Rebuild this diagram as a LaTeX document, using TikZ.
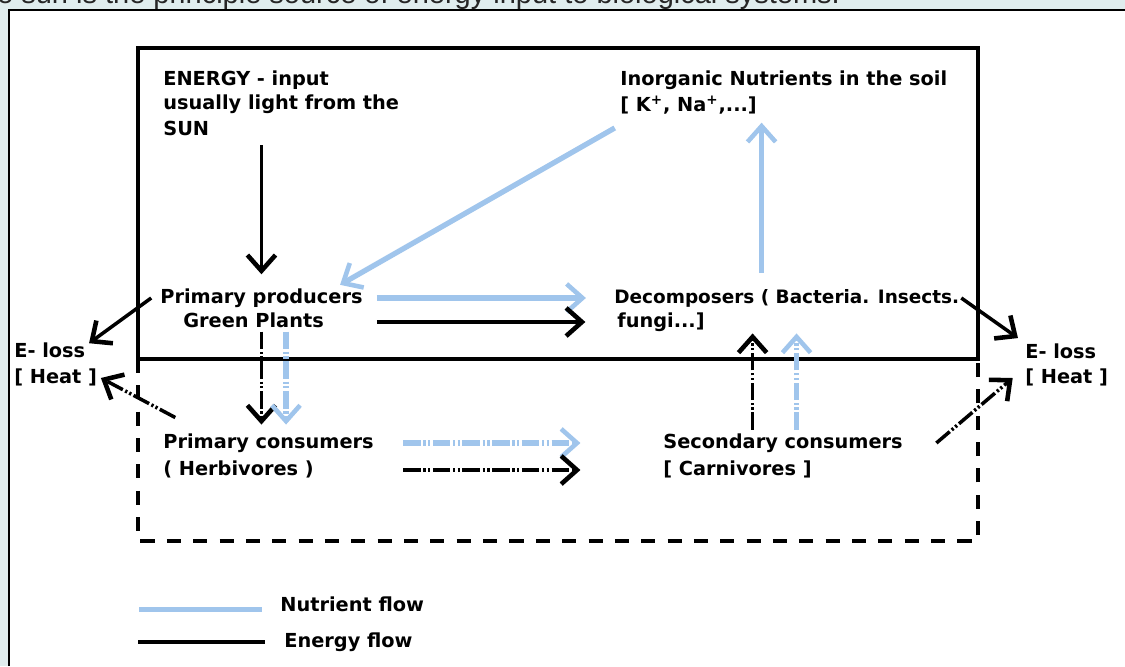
\documentclass[tikz,border=0pt]{standalone}
\usepackage{fontspec}
\setmainfont{DejaVu Sans}
\newfontfamily\capfont{Liberation Sans}
\usetikzlibrary{arrows.meta}
\definecolor{nutblue}{RGB}{160,197,236}
\definecolor{pagebg}{RGB}{224,237,238}

\begin{document}
\begin{tikzpicture}[x = 0.02cm, y = -0.02cm,
  lbl/.style = {anchor = west, inner sep = 0pt, font = \fontsize{11}{13}\selectfont\bfseries, text height = 8.3pt, text depth = 2.3pt},
  barb/.style = {-{Straight Barb[length = 9pt, width = 16pt, line width = 2.6pt]}},
  energy/.style = {barb, line width = 2pt, black},
  nutrient/.style = {barb, line width = 3pt, nutblue},
  dotdash/.style = {dash pattern = on 10pt off 1.5pt on 1.3pt off 1.3pt on 1.3pt off 1.5pt},
  frame/.style = {line width = 2.1pt}]
\useasboundingbox (0,0) rectangle (1125,666);
\fill[pagebg] (0,0) rectangle (1125,666);
\node[anchor = base west, inner sep = 0pt, font = \capfont\fontsize{16.5}{18}\selectfont, text = black!85] (cap) at (-37,4) {The sun is the principle source of energy input to biological systems.};
\fill[white] (9,10) rectangle (1125,666);
\draw[line width = 1.3pt] (9,666) -- (9,10) -- (1125,10);
\draw[frame] (138,48) rectangle (978,359);
\draw[frame, dash pattern = on 8pt off 7pt] (138,359) -- (138,541) -- (978,541) -- (978,359);

\node[lbl, align = left, text height = , text depth = , anchor = north west] (sun) at (163,70) {ENERGY - input\\[1pt] usually light from the\\[2pt] SUN};
\node[lbl] (soil1) at (620,80) {Inorganic Nutrients in the soil};
\node[lbl] (soil2) at (620,106) {[ K\textsuperscript{+}, Na\textsuperscript{+},...]};
\node[lbl] (ppro) at (160,298) {Primary producers};
\node[lbl] (gpl) at (183,322) {Green Plants};
\node[lbl, font = \fontsize{10.5}{13}\selectfont\bfseries] (deco) at (614,298) {Decomposers ( Bacteria. Insects.};
\node[lbl] (fung) at (617,322) {fungi...]};
\node[lbl] (lossL) at (14,352) {E- loss};
\node[lbl] (heatL) at (14,378) {[ Heat ]};
\node[lbl] (lossR) at (1025,353) {E- loss};
\node[lbl] (heatR) at (1025,378) {[ Heat ]};
\node[lbl] (pcon) at (163,443) {Primary consumers};
\node[lbl] (herb) at (163,470) {( Herbivores )};
\node[lbl] (scon) at (663,443) {Secondary consumers};
\node[lbl] (carn) at (663,470) {[ Carnivores ]};
\node[lbl] (keyN) at (280,606) {Nutrient flow};
\node[lbl] (keyE) at (284,642) {Energy flow};

\draw[energy] ([yshift = -5pt]sun.south -| ppro.north) -- ([yshift = 8pt]ppro.north);
\draw[nutrient] ([xshift = -3pt, yshift = -7pt]soil2.south west) -- ([xshift = -13pt, yshift = 2pt]ppro.north east);
\draw[nutrient] ([xshift = 8pt]ppro.east) -- ([xshift = -16pt]deco.west);
\draw[energy] ([xshift = 8pt]ppro.east |- gpl.east) -- ([xshift = -18pt]fung.west);
\draw[nutrient] ([xshift = 84pt, yshift = 9pt]deco.north west) -- ([xshift = 84pt, yshift = -4pt]deco.north west |- soil2.south);
\draw[energy] ([xshift = -5pt]ppro.west) -- ([xshift = 2pt, yshift = 5pt]lossL.east);
\draw[energy] ([xshift = 1pt]deco.east) -- ([xshift = -4pt, yshift = 3pt]lossR.north west);
\draw[energy, dotdash] ([xshift = 7pt, yshift = 9pt]pcon.north west) -- ([xshift = 2pt]heatL.east);
\draw[energy, dotdash] ([xshift = 19pt]scon.east) -- ([xshift = -7pt]heatR.west);
\draw[energy, dotdash] (gpl.south -| ppro.north) -- ([yshift = 5pt]ppro.north |- pcon.north);
\draw[nutrient, dotdash] ([xshift = 14pt]gpl.south -| ppro.north) -- ([xshift = 14pt, yshift = 5pt]ppro.north |- pcon.north);
\draw[nutrient, dotdash] ([xshift = 16.5pt]pcon.east) -- ([xshift = -47pt]scon.west);
\draw[energy, dotdash] ([xshift = 16.5pt]pcon.east |- herb.east) -- ([xshift = -47pt]scon.west |- carn.west);
\draw[energy, dotdash] ([xshift = 51pt, yshift = 2pt]scon.north west) -- ([xshift = 51pt, yshift = -1pt]scon.north west |- fung.south);
\draw[nutrient, dotdash] ([xshift = 76pt, yshift = 2pt]scon.north west) -- ([xshift = 76pt, yshift = -1pt]scon.north west |- fung.south);
\draw[nutblue, line width = 2.6pt] ([xshift = -80pt, yshift = -2pt]keyN.west) -- ([xshift = -10pt, yshift = -2pt]keyN.west);
\draw[line width = 2.8pt] ([xshift = -83pt]keyE.west) -- ([xshift = -11pt]keyE.west);
\end{tikzpicture}
\end{document}
